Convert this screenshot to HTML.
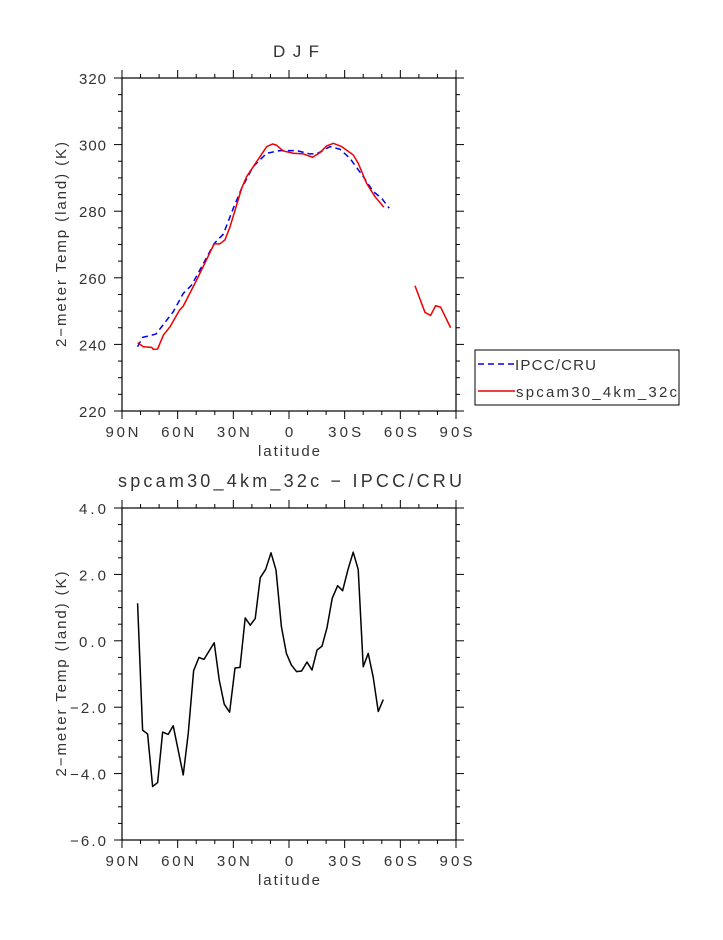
<!DOCTYPE html>
<html><head><meta charset="utf-8"><style>
html,body{margin:0;padding:0;background:#fff;}
svg text{font-family:"Liberation Sans",sans-serif;fill:#333;}
</style></head><body>
<svg id="chart" width="723" height="935" xmlns="http://www.w3.org/2000/svg"></svg>
<script>
// Top panel data (lat: + north, - south)
const obsLat = [81.6,78.9,71.7,62.4,57,52.5,47.1,40.3,35.4,30,25.5,19.3,12,4.9,-4.1,-11.3,-14.9,-22.1,-27.5,-32.8,-40,-45.4,-49.9,-54];
const obsVal = [239.3,242.1,243.1,249.8,255.3,257.8,263.3,270.3,273.1,280.9,286.9,293.4,297.4,298.2,298.2,297.2,297.2,299.4,298.6,295.9,290.4,285.9,283.9,280.9];
const modLat = [81.6,78.5,74,73.1,70.8,67.7,64.1,59,57,49.8,40.3,37.2,34.5,31.8,25.5,22.8,17.4,12,8.8,6.7,3.1,-2.3,-7.7,-12.7,-16.7,-20.3,-23.9,-28.4,-34.6,-37.3,-41.8,-46.3,-51.1];
const modVal = [240.5,239.3,239.1,238.5,238.6,242.8,245.3,250.3,251.5,259.3,270.2,270.2,271.4,275.3,286.9,290.4,294.9,299.4,300.2,299.8,298.1,297.4,297.2,296.2,297.6,299.6,300.4,299.4,296.9,294.4,288.4,284.4,281.2];
const mod2Lat = [-67.9,-73.3,-76.3,-79,-81.7,-87.1];
const mod2Val = [257.6,249.6,248.7,251.6,251.2,245.0];
// Bottom panel data
const diffLat = [81.6,78.9,76.2,73.5,70.8,68.1,65.1,62.4,59.7,57,54.3,51.4,48.5,45.8,43.1,40.3,37.6,34.9,32,29.1,26.4,23.6,20.9,18.2,15.5,12.6,9.7,7,4.1,1.4,-1.3,-4.1,-6.8,-9.7,-12.4,-15.1,-17.8,-20.5,-23.3,-26.2,-28.9,-31.8,-34.6,-37.3,-40,-42.7,-45.4,-48.1,-50.8];
const diffVal = [1.13,-2.69,-2.81,-4.39,-4.27,-2.75,-2.82,-2.56,-3.3,-4.04,-2.79,-0.9,-0.5,-0.56,-0.31,-0.06,-1.18,-1.91,-2.15,-0.82,-0.8,0.69,0.47,0.67,1.9,2.15,2.65,2.13,0.43,-0.38,-0.73,-0.93,-0.91,-0.64,-0.88,-0.28,-0.16,0.4,1.28,1.66,1.51,2.15,2.67,2.15,-0.78,-0.38,-1.1,-2.13,-1.77];
const xTickLabels = ["90N","60N","30N","0","30S","60S","90S"];
const topYTicks = [220,240,260,280,300,320];
const botYTicks = [-6,-4,-2,0,2,4];

const NS="http://www.w3.org/2000/svg";
const svg=document.getElementById('chart');
function mk(tag,attrs,parent){const e=document.createElementNS(NS,tag);for(const k in attrs)e.setAttribute(k,attrs[k]);(parent||svg).appendChild(e);return e;}
function txt(s,attrs,w,parent){const t=mk('text',attrs,parent);t.textContent=s;if(w){t.setAttribute('textLength',w);t.setAttribute('lengthAdjust','spacing');}return t;}
const L=122,R=456;
function xs(lat){return L+(90-lat)/180*(R-L);}

function panel(name,top,bot,ymin,ymax,yticks,fmt){
  const g=mk('g',{});
  
  
  const ys=v=>bot-(v-ymin)/(ymax-ymin)*(bot-top);
  const fr=mk('rect',{x:L,y:top,width:R-L,height:bot-top,fill:'none',stroke:'#000','stroke-width':1.2},g);
  
  
  const step=(yticks[1]-yticks[0])/4;
  for(let v=ymin;v<=ymax+1e-9;v+=step){
    const r=(v-ymin)/(yticks[1]-yticks[0]);
    const major=Math.abs(r-Math.round(r))<1e-6;
    const len=major?8:4;const y=ys(v);
    mk('line',{x1:L-len,x2:L,y1:y,y2:y,stroke:'#000','stroke-width':1},g);
    mk('line',{x1:R,x2:R+len,y1:y,y2:y,stroke:'#000','stroke-width':1},g);
  }
  yticks.forEach(v=>{
    const s=fmt(v);
    const t=txt(s,{x:106,y:ys(v)+6,'text-anchor':'end','font-size':15},s.length*9,g);
    
    
  });
  for(let d=0;d<=180;d+=10){
    const x=L+d/180*(R-L);const len=d%30===0?8:4;
    mk('line',{x1:x,x2:x,y1:bot,y2:bot+len,stroke:'#000','stroke-width':1},g);
    mk('line',{x1:x,x2:x,y1:top-len,y2:top,stroke:'#000','stroke-width':1},g);
  }
  xTickLabels.forEach((s,i)=>{
    const t=txt(s,{x:L+i*30/180*(R-L),y:bot+26,'text-anchor':'middle','font-size':15},s.length===1?9:33,g);
    
    
  });
  const xl=txt('latitude',{x:289,y:bot+45,'text-anchor':'middle','font-size':15},62,g);
  
  
  const yl=txt('2\u2212meter Temp (land) (K)',{x:0,y:0,'text-anchor':'middle','font-size':15,transform:`translate(66,${(top+bot)/2}) rotate(-90)`},205,g);
  
  
  return ys;
}
function line(lats,vals,ys,color,dash,name){
  const p=mk('polyline',{points:lats.map((l,i)=>xs(l)+','+ys(vals[i])).join(' '),fill:'none',stroke:color,'stroke-width':1.5,'stroke-dasharray':dash||'none','stroke-linejoin':'round'});
  
  
}
const ys1=panel('top-panel',78,411,220,320,topYTicks,v=>String(v));
const ys2=panel('bottom-panel',508,840,-6,4,botYTicks,v=>(v<0?'\u2212':'')+Math.abs(v).toFixed(1));
line(obsLat,obsVal,ys1,'#0000ee','6,4','ipcc-cru-line');
line(modLat,modVal,ys1,'#ee0000',null,'spcam-line');
line(mod2Lat,mod2Val,ys1,'#ee0000',null,'spcam-line-south');
line(diffLat,diffVal,ys2,'#000',null,'difference-line');

const t1=txt('DJF',{x:296,y:57,'text-anchor':'middle','font-size':17},46);


const t2=txt('spcam30_4km_32c \u2212 IPCC/CRU',{x:290,y:487,'text-anchor':'middle','font-size':18},344);



const lg=mk('g',{});


mk('rect',{x:475,y:350,width:204,height:55,fill:'#fff',stroke:'#000','stroke-width':1},lg);
const e1=mk('line',{x1:478,x2:515,y1:364,y2:364,stroke:'#0000ee','stroke-width':1.5,'stroke-dasharray':'6,4'},lg);


const l1=txt('IPCC/CRU',{x:515,y:370,'font-size':15},81,lg);


const e2=mk('line',{x1:478,x2:515,y1:391,y2:391,stroke:'#ee0000','stroke-width':1.5},lg);


const l2=txt('spcam30_4km_32c',{x:516,y:397,'font-size':15},161,lg);


</script>
</body></html>
